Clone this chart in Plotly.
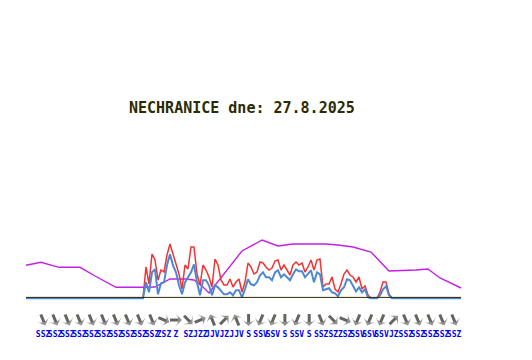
import math
import plotly.graph_objects as go

title_text = "NECHRANICE dne: 27.8.2025"

# 10-minute samples
minutes = list(range(0, 1460, 10))
zeros_start = [0] * 39
red_day = [0, 31, 14, 44, 38, 18, 28, 26, 43, 54, 44, 34, 24, 9, 33, 29, 51, 51, 24, 13,
           33, 28, 21, 11, 39, 33, 18, 13, 13, 19, 11, 16, 19, 6, 16, 35, 31, 24, 26, 36,
           35, 31, 28, 30, 37, 38, 28, 33, 28, 23, 33, 36, 33, 35, 26, 31, 38, 28, 38, 39,
           11, 14, 14, 21, 9, 6, 14, 24, 28, 23, 21, 16, 21, 9, 12, 3, 0, 0, 0, 6, 16, 16, 4]
blue_day = [0, 16, 6, 26, 29, 4, 15, 16, 33, 44, 33, 26, 13, 4, 16, 21, 26, 34, 16, 3,
            18, 18, 13, 3, 13, 11, 8, 4, 4, 6, 3, 8, 8, 1, 9, 19, 14, 13, 16, 23,
            26, 21, 21, 18, 26, 28, 21, 24, 21, 18, 24, 29, 27, 27, 21, 24, 28, 16, 26, 24,
            8, 9, 10, 6, 5, 2, 8, 11, 19, 18, 13, 7, 11, 6, 9, 1, 0, 0, 0, 3, 9, 12, 3]
red = zeros_start + red_day
red = red + [0] * (len(minutes) - len(red))
blue = zeros_start + blue_day
blue = blue + [0] * (len(minutes) - len(blue))

purple_minutes = [0, 50, 110, 180, 230, 300, 400, 430, 480, 530, 560, 590, 610, 670, 720, 787,
                  840, 890, 1000, 1040, 1090, 1150, 1210, 1300, 1340, 1380, 1450]
purple = [32.7, 35.7, 30.7, 30.7, 22, 10.7, 10.7, 11, 19, 19, 18, 11, 5, 28, 47, 58,
          52, 54, 54, 53, 51, 46, 27, 28, 29, 20, 10]

wind_minutes = [57 + round(40.3 * k) for k in range(35)]
wind_dirs = ["SSZ"] * 10 + ["ZSZ", "Z", "SZ", "JZZ", "JJV", "JZ", "JJV", "S", "SSV", "SSV",
                            "S", "SSV", "S", "SSZ", "SZ", "ZSZ", "SSV", "SSV", "SSV", "JZ"] + ["SSZ"] * 5
bearing = {"S": 0, "SSV": 22.5, "JJV": 157.5, "JZ": 225, "JZZ": 247.5, "Z": 270,
           "ZSZ": 292.5, "SZ": 315, "SSZ": 337.5}

RED, BLUE, PURPLE = "#f03434", "#4f88d2", "#c41fe6"
DARK = "#2b2b00"

fig = go.Figure()
fig.add_trace(go.Scatter(x=purple_minutes, y=purple, mode="lines", line=dict(color=PURPLE, width=1.4)))
fig.add_trace(go.Scatter(x=minutes, y=red, mode="lines", line=dict(color=RED, width=1.5)))
fig.add_trace(go.Scatter(x=minutes, y=[v - 0.3 for v in blue], mode="lines", line=dict(color=BLUE, width=2)))
fig.add_trace(go.Scatter(x=[0, 1450], y=[0.6, 0.6], mode="lines", line=dict(color=DARK, width=1)))
fig.add_trace(go.Scatter(x=wind_minutes, y=[-36.5] * 35, mode="text", text=["<b>%s</b>" % d for d in wind_dirs],
                         textposition="middle center",
                         textfont=dict(family="DejaVu Sans Mono", size=8, color="#0000ee")))

ARROW_Y, HALF = -22, 6
MIN_PER_UNIT = 10 / 3
for t, d in zip(wind_minutes, wind_dirs):
    a = math.radians(bearing[d] + 180)  # direction of travel
    ux, uy = math.sin(a), math.cos(a)
    fig.add_trace(go.Scatter(
        x=[t - ux * HALF * MIN_PER_UNIT, t + ux * HALF * MIN_PER_UNIT],
        y=[ARROW_Y - uy * HALF, ARROW_Y + uy * HALF],
        mode="lines+markers", opacity=0.85,
        line=dict(color="#4a4a45", width=3),
        marker=dict(symbol="arrow-wide", size=[0, 9], angleref="previous", color="#4a4a45", line=dict(width=0)),
    ))

fig.add_annotation(x=720, y=190, xref="x", yref="y", text="<b>%s</b>" % title_text, showarrow=False,
                   font=dict(family="DejaVu Sans Mono", size=15, color=DARK))

fig.update_layout(width=516, height=344, margin=dict(l=0, r=0, t=0, b=0), showlegend=False,
                  paper_bgcolor="white", plot_bgcolor="white",
                  xaxis=dict(range=[-60, 1660], visible=False),
                  yaxis=dict(range=[-54, 290], visible=False))
fig.write_html("out.html")
